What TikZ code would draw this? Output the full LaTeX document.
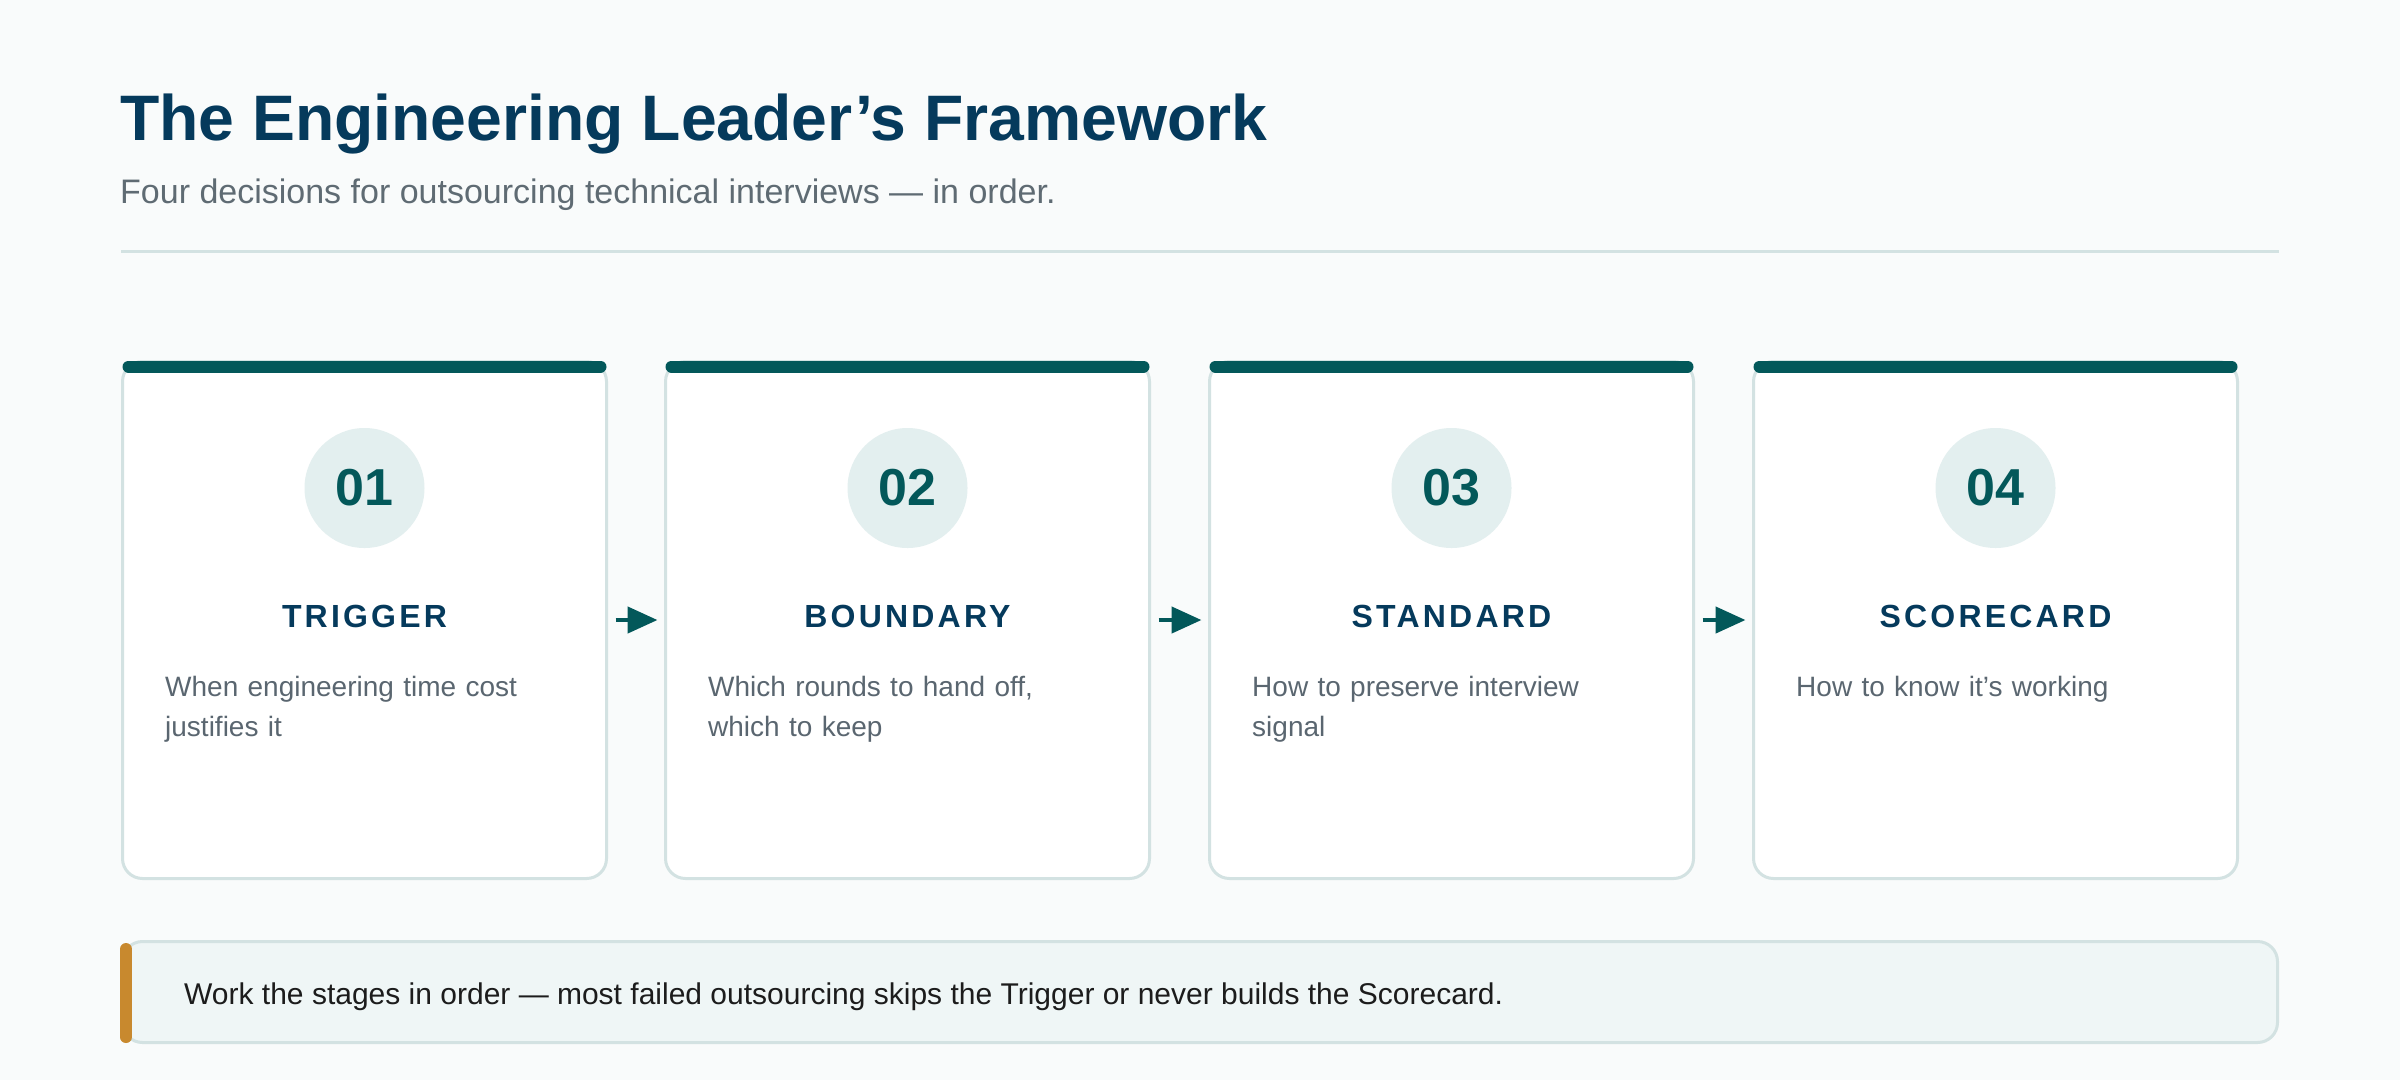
\documentclass[tikz,border=0pt]{standalone}
\usepackage{fontspec}
\setmainfont{Liberation Sans}
\newfontfamily\headfont{Liberation Sans}[LetterSpace=10]
\usetikzlibrary{arrows.meta}

\definecolor{pagebg}{HTML}{F9FBFB}
\definecolor{navy}{HTML}{053A5C}
\definecolor{stageteal}{HTML}{03585A}
\definecolor{disc}{HTML}{E3EFEF}
\definecolor{cardline}{HTML}{D3E2E2}
\definecolor{slate}{HTML}{5A6670}
\definecolor{subgray}{HTML}{5F6B73}
\definecolor{notefill}{HTML}{EFF6F6}
\definecolor{gold}{HTML}{C8892E}
\definecolor{ink}{HTML}{1C1C1C}

\begin{document}
\begin{tikzpicture}[x=1pt,y=-1pt,
    card/.style={draw=cardline,line width=3pt,fill=white,rounded corners=20pt,
        minimum width=484pt,minimum height=517pt,inner sep=0pt,outer sep=0pt},
    topbar/.style={draw=stageteal,line width=12pt,line cap=round},
    numdisc/.style={circle,fill=disc,minimum size=120pt,inner sep=0pt,
        text=stageteal,font=\fontsize{52}{52}\selectfont\bfseries},
    stagehead/.style={anchor=base,inner sep=0pt,text=navy,
        font=\headfont\fontsize{32}{32}\selectfont\bfseries},
    stagetext/.style={anchor=base west,align=left,text width=400pt,inner sep=0pt,
        text=slate,font=\fontsize{28}{40}\selectfont},
    flow/.style={draw=stageteal,line width=4.5pt,-{Triangle[length=30pt,width=26pt]},
        shorten <=9pt,shorten >=8pt}]

    \fill[pagebg] (0,0) rectangle (2400,1080);
    \useasboundingbox (0,0) rectangle (2400,1080);

    % heading
    \node[anchor=base west,inner sep=0pt,text=navy,font=\fontsize{64.3}{64}\selectfont\bfseries]
        (title) at (120,140) {The Engineering Leader’s Framework};
    \node[anchor=base west,inner sep=0pt,text=subgray,font=\fontsize{34}{34}\selectfont]
        (subtitle) at (120,203) {Four decisions for outsourcing technical interviews — in order.};
    \draw[cardline,line width=3pt] (121,251.5) -- (2279,251.5);

    % cards
    \node[card] (c1) at (364.5,620) {};
    \node[card] (c2) at (907.5,620) {};
    \node[card] (c3) at (1451.5,620) {};
    \node[card] (c4) at (1995.5,620) {};

    \draw[topbar] ([shift={(6,5)}]c1.north west) -- ([shift={(-6,5)}]c1.north east);
    \draw[topbar] ([shift={(6,5)}]c2.north west) -- ([shift={(-6,5)}]c2.north east);
    \draw[topbar] ([shift={(6,5)}]c3.north west) -- ([shift={(-6,5)}]c3.north east);
    \draw[topbar] ([shift={(6,5)}]c4.north west) -- ([shift={(-6,5)}]c4.north east);

    \node[numdisc] (n1) at (364.5,488) {01};
    \node[numdisc] (n2) at (907.5,488) {02};
    \node[numdisc] (n3) at (1451.5,488) {03};
    \node[numdisc] (n4) at (1995.5,488) {04};

    \node[stagehead] (h1) at (364.5,627) {TRIGGER};
    \node[stagehead] (h2) at (907.5,627) {BOUNDARY};
    \node[stagehead] (h3) at (1451.5,627) {STANDARD};
    \node[stagehead] (h4) at (1995.5,627) {SCORECARD};

    \node[stagetext] (d1) at (165,696) {When engineering time cost\\justifies it};
    \node[stagetext] (d2) at (708,696) {Which rounds to hand off,\\which to keep};
    \node[stagetext] (d3) at (1252,696) {How to preserve interview\\signal};
    \node[stagetext] (d4) at (1796,696) {How to know it’s working};

    \draw[flow] (c1.east) -- (c2.west);
    \draw[flow] (c2.east) -- (c3.west);
    \draw[flow] (c3.east) -- (c4.west);

    % callout
    \node[draw=cardline,line width=3pt,fill=notefill,rounded corners=20pt,
        minimum width=2155pt,minimum height=101pt,inner sep=0pt] (note) at (1200,992) {};
    \draw[gold,line width=12pt,line cap=round] (126,949) -- (126,1037);
    \node[anchor=base west,inner sep=0pt,text=ink,font=\fontsize{30}{30}\selectfont]
        (notetext) at (184,1004) {Work the stages in order — most failed outsourcing skips the Trigger or never builds the Scorecard.};
\end{tikzpicture}
\end{document}
